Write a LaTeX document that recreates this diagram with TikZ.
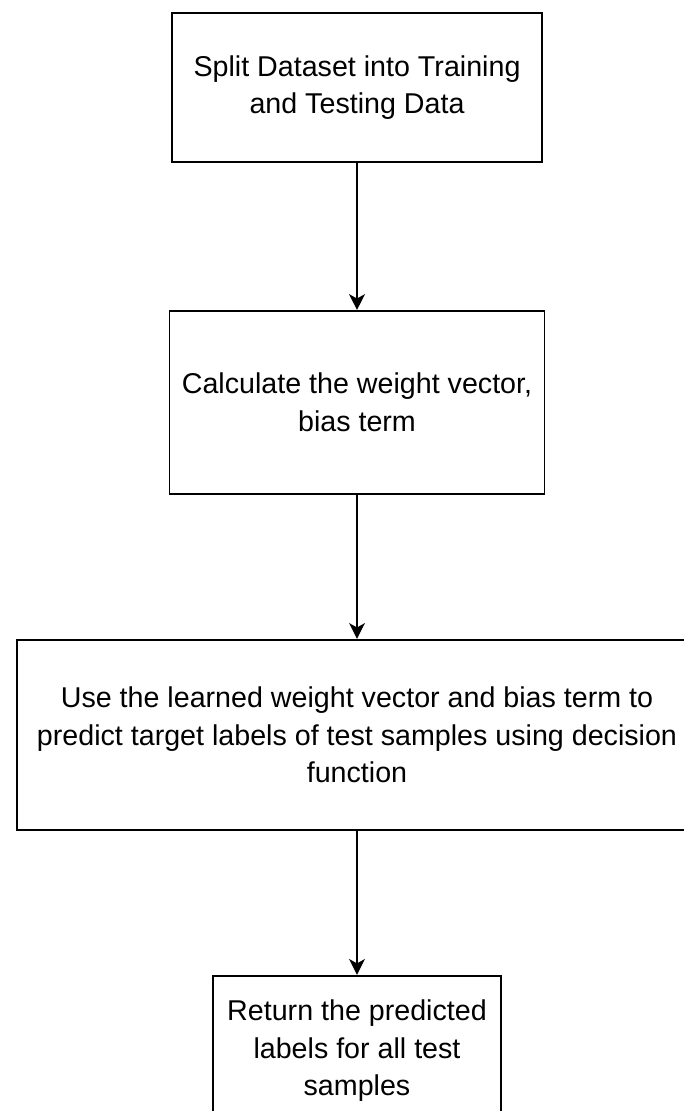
\documentclass[tikz,border=0pt]{standalone}
\usepackage{fontspec}
\setmainfont{Liberation Sans}
\usetikzlibrary{arrows.meta, positioning}

\begin{document}
\begin{tikzpicture}[
	node distance = 2.9cm,
	>={Stealth[length=9pt, width=9pt, inset=2.5pt]},
	block/.style = {draw, rectangle, line width=1.1pt, align=center, inner sep=0pt, font=\fontsize{16.3}{21.4}\selectfont},
	flow/.style  = {->, line width=0.9pt}
	]
	
	% page frame
	\clip (0,0) rectangle (13.68,-22.22);
	
	\node [block, minimum width=7.4cm, minimum height=2.98cm] (split) at (7.14,-1.75)
	{Split Dataset into Training\\and Testing Data};
	\node [block, below=2.94cm of split, minimum width=7.5cm, minimum height=3.66cm] (weights)
	{Calculate the weight vector,\\bias term};
	\node [block, below=2.88cm of weights, minimum width=13.6cm, minimum height=3.8cm] (predict)
	{Use the learned weight vector and bias term to\\predict target labels of test samples using decision\\function};
	\node [block, below=2.88cm of predict, minimum width=5.76cm, minimum height=3cm] (result)
	{Return the predicted\\labels for all test\\samples};
	
	%% ── Forward path ──────────────────────────────────────────────
	\draw [flow] (split)   -- (weights);
	\draw [flow] (weights) -- (predict);
	\draw [flow] (predict) -- (result);
	
\end{tikzpicture}
\end{document}
